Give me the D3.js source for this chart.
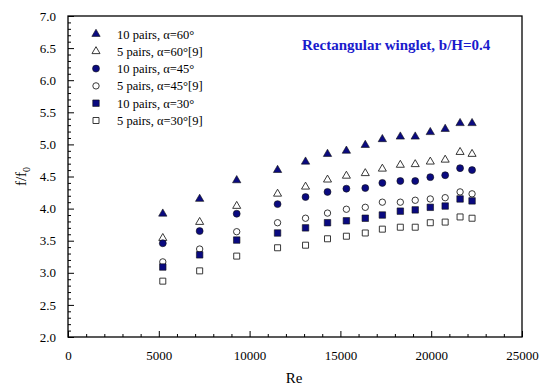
<!DOCTYPE html>
<html>
<head>
<meta charset="utf-8">
<script src="https://cdn.jsdelivr.net/npm/d3@7"></script>
<style>
  html, body { margin: 0; padding: 0; background: #fff; }
  svg { display: block; }
  text { font-family: "Liberation Serif", "Times New Roman", serif; }
</style>
</head>
<body>
<svg id="chart" width="541" height="389"></svg>
<script>
// Reynolds numbers of the measurement runs
const reValues = [5220, 7250, 9290, 11540, 13080, 14290, 15330, 16370, 17310, 18300, 19120, 19950, 20770, 21590, 22250];

// Friction factor ratio f/f0 for each configuration
const tri10 = [3.92, 4.15, 4.44, 4.60, 4.73, 4.85, 4.90, 4.99, 5.08, 5.12, 5.12, 5.19, 5.24, 5.33, 5.33];
const tri5  = [3.54, 3.79, 4.04, 4.23, 4.34, 4.45, 4.51, 4.55, 4.62, 4.68, 4.69, 4.73, 4.76, 4.88, 4.85];
const cir10 = [3.46, 3.65, 3.92, 4.07, 4.18, 4.26, 4.31, 4.32, 4.40, 4.43, 4.43, 4.49, 4.52, 4.63, 4.60];
const cir5  = [3.17, 3.37, 3.64, 3.78, 3.85, 3.93, 3.99, 4.02, 4.10, 4.10, 4.13, 4.15, 4.17, 4.26, 4.23];
const sq10  = [3.09, 3.28, 3.51, 3.62, 3.70, 3.78, 3.81, 3.85, 3.90, 3.96, 3.98, 4.02, 4.04, 4.15, 4.12];
const sq5   = [2.87, 3.03, 3.26, 3.39, 3.43, 3.53, 3.57, 3.62, 3.68, 3.71, 3.71, 3.78, 3.79, 3.87, 3.85];

const seriesLabels = ["10 pairs, α=60°", "5 pairs, α=60°[9]", "10 pairs, α=45°", "5 pairs, α=45°[9]", "10 pairs, α=30°", "5 pairs, α=30°[9]"];
const xTickLabels = ["0", "5000", "10000", "15000", "20000", "25000"];
const yTickLabels = ["2.0", "2.5", "3.0", "3.5", "4.0", "4.5", "5.0", "5.5", "6.0", "6.5", "7.0"];
const titleText = "Rectangular winglet, b/H=0.4";

const navy = "#0a0a80";
const series = [
  { vals: tri10, shape: d3.symbolTriangle, filled: true,  size: 30 },
  { vals: tri5,  shape: d3.symbolTriangle, filled: false, size: 28 },
  { vals: cir10, shape: d3.symbolCircle,   filled: true,  size: 38 },
  { vals: cir5,  shape: d3.symbolCircle,   filled: false, size: 32 },
  { vals: sq10,  shape: d3.symbolSquare,   filled: true,  size: 42 },
  { vals: sq5,   shape: d3.symbolSquare,   filled: false, size: 36 }
];

const svg = d3.select("#chart");
const plot = { left: 68, right: 522, top: 16, bottom: 337 };

const x = d3.scaleLinear().domain([0, 25000]).range([plot.left, plot.right]);
const y = d3.scaleLinear().domain([2, 7]).range([plot.bottom, plot.top]);

// Frame
svg.append("rect")
  .attr("x", plot.left).attr("y", plot.top)
  .attr("width", plot.right - plot.left).attr("height", plot.bottom - plot.top)
  .attr("fill", "none").attr("stroke", "#000").attr("stroke-width", 1.3);

// Bottom axis: major ticks every 5000, minor every 1000, pointing inward
const xAxisMajor = d3.axisBottom(x)
  .tickValues(xTickLabels.map(Number))
  .tickFormat((d, i) => xTickLabels[i])
  .tickSizeInner(-6).tickSizeOuter(0).tickPadding(14);
const gx = svg.append("g").attr("transform", `translate(0,${plot.bottom})`).call(xAxisMajor);
gx.select(".domain").remove();
gx.selectAll("text").attr("font-size", 13).attr("fill", "#000")
  .style("font-family", "'Liberation Serif', serif");
gx.selectAll("line").attr("stroke", "#000");

const xAxisMinor = d3.axisBottom(x)
  .tickValues(d3.range(1000, 25000, 1000).filter(v => v % 5000 !== 0))
  .tickFormat("").tickSizeInner(-3).tickSizeOuter(0);
const gxm = svg.append("g").attr("transform", `translate(0,${plot.bottom})`).call(xAxisMinor);
gxm.select(".domain").remove();
gxm.selectAll("line").attr("stroke", "#000");

// Left axis: major ticks every 0.5, minor every 0.1, pointing inward
const yAxisMajor = d3.axisLeft(y)
  .tickValues(yTickLabels.map(Number))
  .tickFormat((d, i) => yTickLabels[i])
  .tickSizeInner(-6).tickSizeOuter(0).tickPadding(12);
const gy = svg.append("g").attr("transform", `translate(${plot.left},0)`).call(yAxisMajor);
gy.select(".domain").remove();
gy.selectAll("text").attr("font-size", 13).attr("fill", "#000")
  .style("font-family", "'Liberation Serif', serif");
gy.selectAll("line").attr("stroke", "#000");

const yMinorVals = d3.range(21, 70).map(v => v / 10).filter(v => Math.abs(v * 2 - Math.round(v * 2)) > 1e-6);
const yAxisMinor = d3.axisLeft(y)
  .tickValues(yMinorVals).tickFormat("").tickSizeInner(-3).tickSizeOuter(0);
const gym = svg.append("g").attr("transform", `translate(${plot.left},0)`).call(yAxisMinor);
gym.select(".domain").remove();
gym.selectAll("line").attr("stroke", "#000");

// Axis titles
svg.append("text").attr("x", (plot.left + plot.right) / 2 - 1).attr("y", 383)
  .attr("text-anchor", "middle").attr("font-size", 15).text("Re");

const yt = svg.append("text")
  .attr("transform", `translate(26,${(plot.top + plot.bottom) / 2}) rotate(-90)`)
  .attr("text-anchor", "middle").attr("font-size", 15);
yt.append("tspan").text("f/f");
yt.append("tspan").attr("font-size", 10).attr("dy", 4).text("0");

// Chart title
svg.append("text").attr("x", 302).attr("y", 50)
  .attr("font-size", 15).attr("font-weight", "bold").attr("fill", "#1a1acc")
  .text(titleText);

// Data markers
function drawMarker(g, s) {
  return g.append("path")
    .attr("d", d3.symbol().type(s.shape).size(s.size)())
    .attr("fill", s.filled ? navy : "#fff")
    .attr("stroke", s.filled ? "#111" : "#222")
    .attr("stroke-width", s.filled ? 0.6 : 0.9);
}

series.forEach(s => {
  const g = svg.append("g");
  s.vals.forEach((v, i) => {
    const m = g.append("g").attr("transform", `translate(${x(reValues[i])},${y(v)})`);
    drawMarker(m, s);
  });
});

// Legend
const legend = svg.append("g");
series.forEach((s, i) => {
  const ly = 34 + i * 17.3;
  const m = legend.append("g").attr("transform", `translate(96,${ly})`);
  drawMarker(m, s);
  legend.append("text").attr("x", 117).attr("y", ly + 4.5)
    .attr("font-size", 12.5).text(seriesLabels[i]);
});
</script>
</body>
</html>
